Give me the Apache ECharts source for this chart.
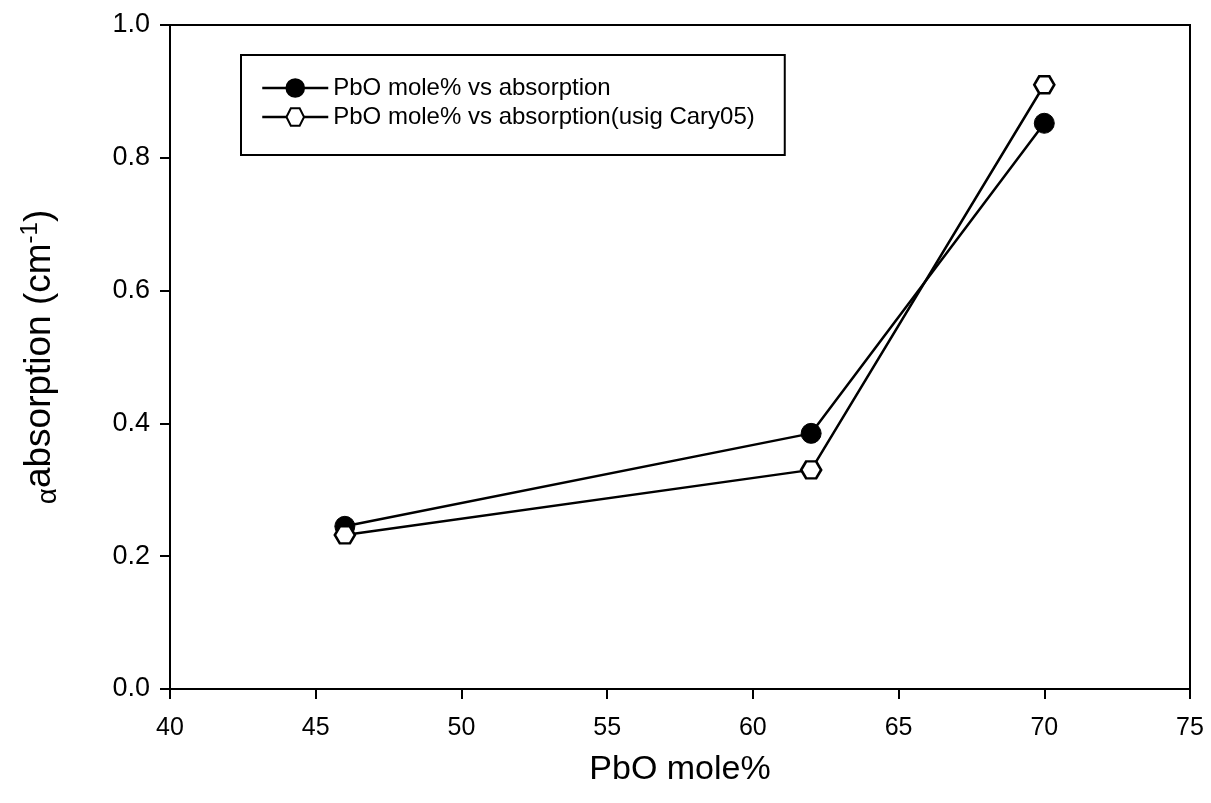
<!DOCTYPE html>
<html><head><meta charset="utf-8">
<script src="https://cdn.jsdelivr.net/npm/echarts@6/dist/echarts.min.js"></script>
<style>html,body{margin:0;padding:0;background:#fff}#c{width:1211px;height:803px}</style>
</head><body><div id="c"></div>
<script>
const pbo = [46, 62, 70];
const absorption = [0.245, 0.385, 0.852];
const absorptionCary = [0.232, 0.33, 0.91];
const seriesNames = ['PbO mole% vs absorption', 'PbO mole% vs absorption(usig Cary05)'];
const xTicks = {min: 40, max: 75, interval: 5};
const yTicks = {min: 0, max: 1, interval: 0.2};

const hexagon = 'path://M0,50 L25,0 L75,0 L100,50 L75,100 L25,100 Z';
const font = 'Arial, "Liberation Sans", sans-serif';
const chart = echarts.init(document.getElementById('c'));
chart.setOption({
  animation: false,
  backgroundColor: '#fff',
  grid: {left: 170, right: 21, top: 25, bottom: 114, show: true, borderColor: '#000', borderWidth: 2, backgroundColor: 'transparent'},
  legend: {
    left: 241, top: 55, orient: 'vertical',
    data: seriesNames,
    borderColor: '#000', borderWidth: 2, borderRadius: 0,
    padding: [21, 30, 26, 20],
    itemWidth: 66, itemHeight: 22, itemGap: 5,
    lineStyle: {width: 2.5, color: '#000'},
    textStyle: {fontFamily: font, fontSize: 24, color: '#000'}
  },
  xAxis: {
    type: 'value', min: xTicks.min, max: xTicks.max, interval: xTicks.interval,
    name: 'PbO mole%', nameLocation: 'middle', nameGap: 64,
    nameTextStyle: {fontFamily: font, fontSize: 34, color: '#000'},
    axisLine: {lineStyle: {color: '#000', width: 2}},
    axisTick: {show: true, length: 10, lineStyle: {color: '#000', width: 2}},
    axisLabel: {fontFamily: font, fontSize: 25, color: '#000', margin: 27},
    splitLine: {show: false}
  },
  yAxis: {
    type: 'value', min: yTicks.min, max: yTicks.max, interval: yTicks.interval,
    name: '{a|α}{b|absorption (cm}{s|-1}{b|)}', nameLocation: 'middle', nameGap: 108,
    nameTextStyle: {
      fontFamily: font, color: '#000',
      rich: {
        a: {fontFamily: font, fontSize: 28, color: '#000', verticalAlign: 'bottom', lineHeight: 44},
        b: {fontFamily: font, fontSize: 37, color: '#000', verticalAlign: 'middle', lineHeight: 44},
        s: {fontFamily: font, fontSize: 24, color: '#000', verticalAlign: 'top', lineHeight: 44}
      }
    },
    axisLine: {lineStyle: {color: '#000', width: 2}},
    axisTick: {show: true, length: 10, lineStyle: {color: '#000', width: 2}},
    axisLabel: {fontFamily: font, fontSize: 27, color: '#000', margin: 20, formatter: v => v.toFixed(1)},
    splitLine: {show: false}
  },
  series: [
    {
      name: seriesNames[0], type: 'line',
      data: pbo.map((x, i) => [x, absorption[i]]),
      symbol: 'circle', symbolSize: 20,
      lineStyle: {color: '#000', width: 2.5},
      itemStyle: {color: '#000', borderColor: '#000', borderWidth: 1}
    },
    {
      name: seriesNames[1], type: 'line',
      data: pbo.map((x, i) => [x, absorptionCary[i]]),
      symbol: hexagon, symbolSize: [20, 17],
      lineStyle: {color: '#000', width: 2.5},
      itemStyle: {color: '#fff', borderColor: '#000', borderWidth: 2.5}
    }
  ]
});
</script></body></html>
